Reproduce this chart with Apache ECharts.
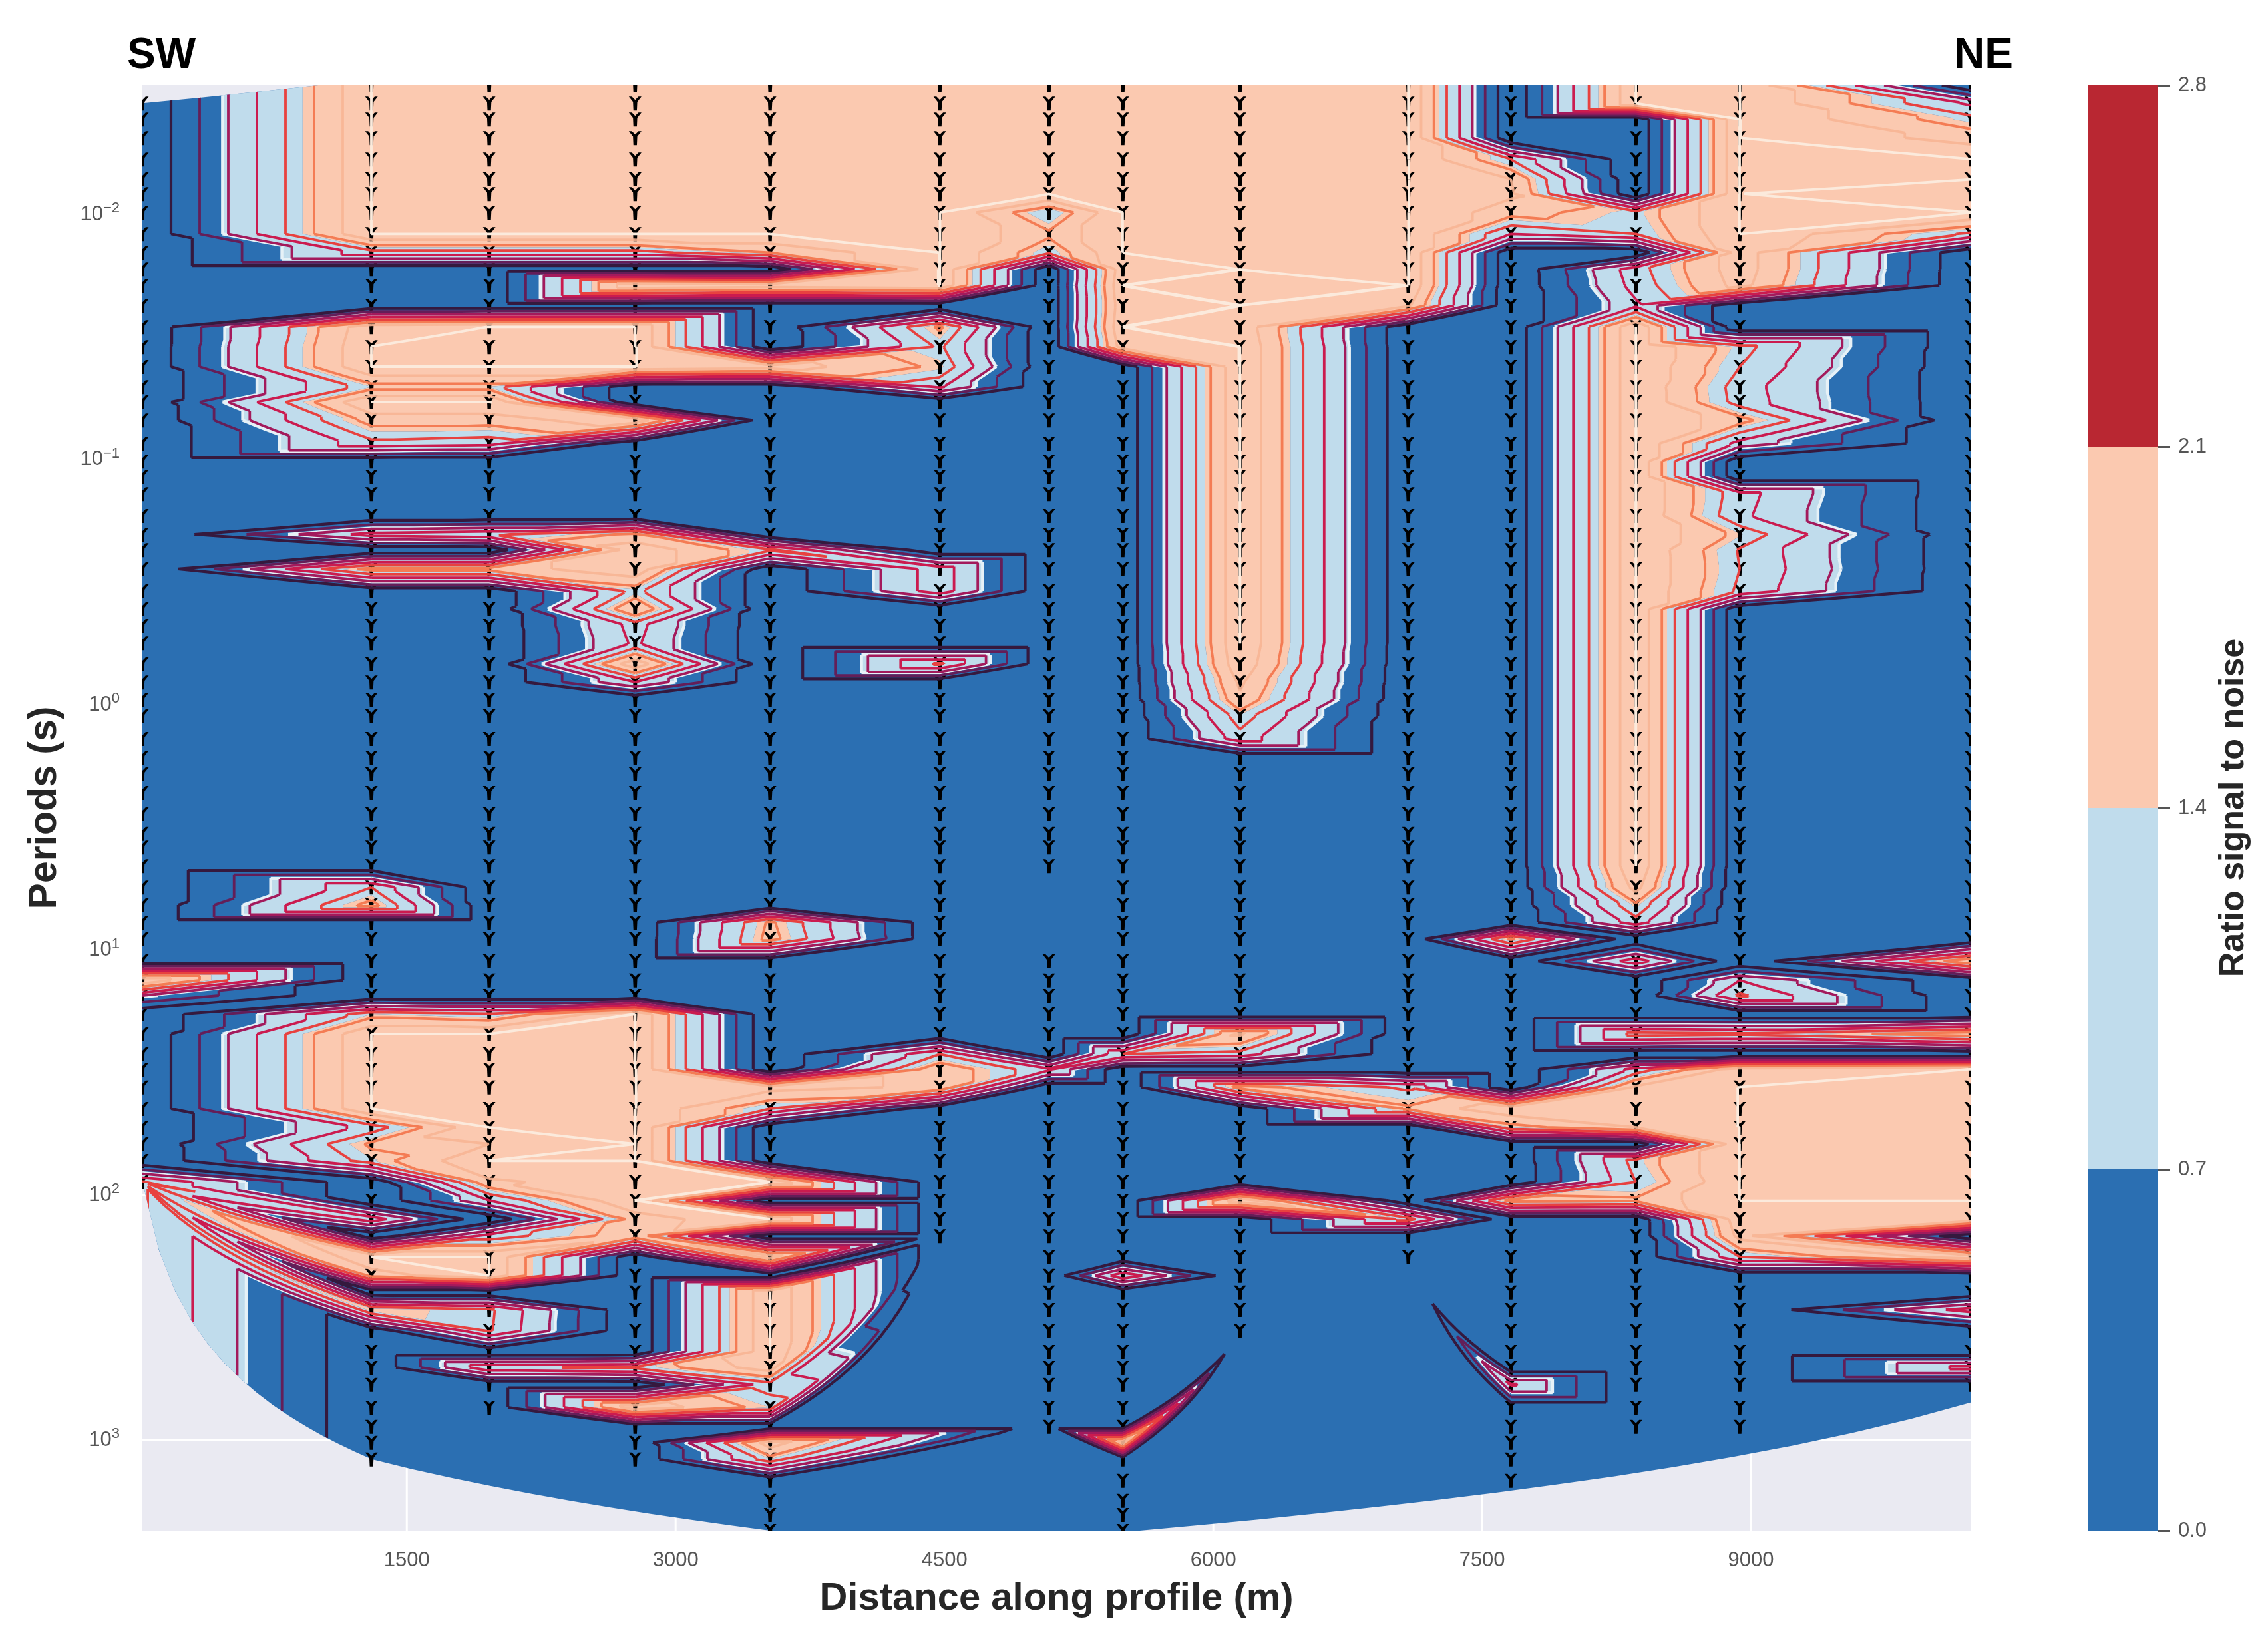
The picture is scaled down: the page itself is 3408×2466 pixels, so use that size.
<!DOCTYPE html>
<html>
<head>
<meta charset="utf-8">
<style>html,body{margin:0;background:#fff}#main{width:3408px;height:2466px}</style>
<script src="https://cdn.jsdelivr.net/npm/echarts@6/dist/echarts.min.js"></script>
</head>
<body>
<div id="main"></div>
<script>
// saturated signal to noise, sits just above the top contour level
const H = 2.001;

// station positions along the profile (m)
const stations = [25, 1303, 1960, 2774, 3527, 4474, 5083, 5495, 6149, 7088, 7660, 8358, 8937, 10225];

// log10 of the period of each measurement row
const logPeriods = [-2.527, -2.453, -2.388, -2.312, -2.225, -2.144, -2.084, -2.008, -1.921, -1.845,
  -1.777, -1.710, -1.628, -1.541, -1.460, -1.379, -1.297, -1.235, -1.161, -1.066,
  -0.993, -0.931, -0.860, -0.771, -0.695, -0.632, -0.554, -0.464, -0.391, -0.323,
  -0.252, -0.166, -0.092, -0.022, 0.046, 0.138, 0.214, 0.282, 0.358, 0.445,
  0.526, 0.581, 0.657, 0.744, 0.817, 0.887, 0.955, 1.045, 1.123, 1.186,
  1.262, 1.343, 1.425, 1.487, 1.560, 1.647, 1.723, 1.791, 1.859, 1.946,
  2.022, 2.098, 2.166, 2.252, 2.328, 2.396, 2.467, 2.553, 2.638, 2.703,
  2.773, 2.866, 2.944, 3.009, 3.077, 3.164, 3.245, 3.303, 3.368];

// ratio signal to noise, one line per period row, one column per station
const snr = [
  [0, H, H, H, H, H, H, H, H, H, 0, H, H, 0],
  [0, H, H, H, H, H, H, H, H, H, 0, H, H, 0.95],
  [0, H, H, H, H, H, H, H, H, H, 0, 0, H, 1.35],
  [0, H, H, H, H, H, H, H, H, H, 0, 0, H, 1.65],
  [0, H, H, H, H, H, H, H, H, H, 1.25, 0, H, H],
  [0, H, H, H, H, H, H, H, H, H, 1.75, 0, H, H],
  [0, H, H, H, H, H, H, H, H, H, 1.8, 0, H, 1.95],
  [0, H, H, H, H, H, 1.25, H, H, H, 1.6, 1.35, H, H],
  [0, H, H, H, H, H, 1.55, H, H, H, 1, 1.25, H, 1.2],
  [0, 1.15, 1.15, 1.15, 1.5, H, 1.3, H, H, H, 0, 0, 1.9, 0],
  [0, 0, 0, 0, 0, H, 0, 1.95, H, H, 0, 1.15, 1.9, 0],
  [0, 0, 0, 2, 1.9, H, 0, H, 1.95, H, 0, 1.1, 1.85, 0],
  [0, 0, 0, 0, 0, 0, 0, 1.95, H, 1.8, 0, 0.95, 0, 0],
  [0, 1.95, H, H, 0, 1.55, 0, H, 1.95, 0, 0, H, 0, 0],
  [0, H, H, H, 0, 1.3, 0, 1.9, H, 0, 0, H, 1.35, 0],
  [0, H, H, H, 1.9, 1.45, 0, 0, H, 0, 0, H, 1.25, 0],
  [0, 1.4, 1.4, 0, 0, 1.05, 0, 0, H, 0, 0, H, 1.13, 0],
  [0, H, H, 0, 0, 0, 0, 0, H, 0, 0, H, 1.15, 0],
  [0, 1.6, 1.6, 1.95, 0, 0, 0, 0, H, 0, 0, H, 1.6, 0],
  [0, 1.17, 1.1, 0, 0, 0, 0, 0, H, 0, 0, H, 0.9, 0],
  [0, 0, 0, 0, 0, 0, 0, 0, H, 0, 0, H, 0, 0],
  [0, 0, 0, 0, 0, 0, 0, 0, H, 0, 0, H, 0, 0],
  [0, 0, 0, 0, 0, 0, 0, 0, H, 0, 0, H, 1.1, 0],
  [0, 0, 0, 0, 0, 0, 0, 0, H, 0, 0, H, 1.06, 0],
  [0, 1.1, 1.2, 1.55, 0, 0, 0, 0, H, 0, 0, H, 1.42, 0],
  [0, 0, 0, 1.95, 1.3, 0, 0, 0, H, 0, 0, H, 1.23, 0],
  [0, 1.6, 1.6, 1.95, 0, 1.15, 0, 0, H, 0, 0, H, 1.25, 0],
  [0, 0, 0, 1.35, 0, 1.15, 0, 0, H, 0, 0, H, 1.2, 0],
  [0, 0, 0, 1.75, 0, 0, 0, 0, H, 0, 0, H, 0, 0],
  [0, 0, 0, 1.1, 0, 0, 0, 0, H, 0, 0, H, 0, 0],
  [0, 0, 0, 1.05, 0, 0, 0, 0, H, 0, 0, H, 0, 0],
  [0, 0, 0, 1.95, 0, 1.3, 0, 0, 1.95, 0, 0, H, 0, 0],
  [0, 0, 0, 1, 0, 0, 0, 0, 1.8, 0, 0, H, 0, 0],
  [0, 0, 0, 0, 0, 0, 0, 0, 1.7, 0, 0, H, 0, 0],
  [0, 0, 0, 0, 0, 0, 0, 0, 1.38, 0, 0, H, 0, 0],
  [0, 0, 0, 0, 0, 0, 0, 0, 1.15, 0, 0, H, 0, 0],
  [0, 0, 0, 0, 0, 0, 0, 0, 0, 0, 0, H, 0, 0],
  [0, 0, 0, 0, 0, 0, 0, 0, 0, 0, 0, H, 0, 0],
  [0, 0, 0, 0, 0, 0, 0, 0, 0, 0, 0, H, 0, 0],
  [0, 0, 0, 0, 0, 0, 0, 0, 0, 0, 0, H, 0, 0],
  [0, 0, 0, 0, 0, 0, 0, 0, 0, 0, 0, H, 0, 0],
  [0, 0, 0, 0, 0, 0, 0, 0, 0, 0, 0, H, 0, 0],
  [0, 0, 0, 0, 0, 0, 0, 0, 0, 0, 0, H, 0, 0],
  [0, 1.25, 0, 0, 0, 0, 0, 0, 0, 0, 0, 1.85, 0, 0],
  [0, 1.6, 0, 0, 0, 0, 0, 0, 0, 0, 0, 1.45, 0, 0],
  [0, 0, 0, 0, 1.55, 0, 0, 0, 0, 0, 0, 1.15, 0, 0],
  [0, 0, 0, 0, 1.6, 0, 0, 0, 0, 0, 1.55, 0, 0, 0],
  [0, 0, 0, 0, 0, 0, 0, 0, 0, 0, 0, 1.15, 0, 1.7],
  [2, 0, 0, 0, 0, 0, 0, 0, 0, 0, 0, 0, 1, 0],
  [0.75, 0, 0, 0, 0, 0, 0, 0, 0, 0, 0, 0, 1.3, 0],
  [0, 1.4, 1.28, H, 0, 0, 0, 0, 0, 0, 0, 0, 0, 0],
  [0, H, H, H, 0, 0, 0, 0, 1.8, 0, 0, 1.35, 1.3, 1.65],
  [0, H, H, H, 0, 1.25, 0, 1.25, 1.15, 0, 0, 0, 0, 0],
  [0, H, H, H, 0, 1.7, 1.05, 0, 0, 0, 0, 1.1, 1.9, H],
  [0, H, H, H, 1.85, 1.7, 0, 0, 1.6, 1.2, 0, 1.8, H, H],
  [0, H, H, H, 1.25, 0, 0, 0, 0, 1.55, 1.95, 1.95, H, H],
  [0, 1.12, H, H, 0, 0, 0, 0, 0, 0, 1.4, 1.75, H, H],
  [0, 1.55, 1.75, H, 0, 0, 0, 0, 0, 0, 0, 0, H, H],
  [0, 1.38, H, H, 0, 0, 0, 0, 0, 0, 0, 1.35, H, H],
  [1.28, 0, 1.7, 1.9, H, 0, 0, 0, 0, 0, 0, 1.25, H, H],
  [0, 0, 1, H, 0, 0, 0, 0, 1.95, 0, 1.6, 1.55, H, H],
  [0, 1.15, 0, 1.6, H, 0, 0, 0, 0, 1.35, 0, 0, 1.95, 1.95],
  [0, 0, 1.1, 1.65, 0, 0, 0, 0, 0, 0, 0, 0, 1.85, 0],
  [0, H, H, 0, 1.9, 0, 0, 0, 0, 0, 0, 0, 1.25, 1.9],
  [0, 1.6, H, 0, 0, 0, 0, 1.2, 0, 0, 0, 0, 0, 0],
  [0, 0, 0, 0, H, 0, 0, 0, 0, 0, 0, 0, 0, 0],
  [0, 1.5, 1.3, 0, H, 0, 0, 0, 0, 0, 0, 0, 0, 1.12],
  [0, 0, 1.28, 0, H, 0, 0, 0, 0, 0, 0, 0, 0, 0],
  [0, 0, 0, 0, H, 0, 0, 0, 0, 0, 0, 0, 0, 0],
  [0, 0, 1.2, 1.3, 1.9, 0, 0, 0, 0, 0, 0, 0, 0, 1.1],
  [0, 0, 0, 0, 1.14, 0, 0, 0, 0, 0, 1.05, 0, 0, 0],
  [0, 0, 0, 1.95, 1.4, 0, 0, 0, 0, 0, 0, 0, 0, 0],
  [0, 0, 0, 0, 0, 0, 0, 0, 0, 0, 0, 0, 0, 0],
  [0, 0, 0, 0, 1.9, 0, 0, 1.9, 0, 0, 0, 0, 0, 0],
  [0, 0, 0, 0, 1.4, 0, 0, 0, 0, 0, 0, 0, 0, 0],
  [0, 0, 0, 0, 0, 0, 0, 0, 0, 0, 0, 0, 0, 0],
  [0, 0, 0, 0, 0, 0, 0, 0, 0, 0, 0, 0, 0, 0],
  [0, 0, 0, 0, 0, 0, 0, 0, 0, 0, 0, 0, 0, 0],
  [0, 0, 0, 0, 0, 0, 0, 0, 0, 0, 0, 0, 0, 0]
];

// first and last row measured at each station, and rows left out at station 5083
const firstRow = [1, 0, 0, 0, 0, 0, 0, 0, 0, 0, 0, 0, 0, 0];
const lastRow = [59, 74, 71, 74, 78, 62, 72, 78, 67, 63, 75, 72, 72, 70];
const gapRows = [[6, 43, 46]];

// where a station has no data below its last row the mesh folds onto another
// sample: [station, from row, to row, sample station, sample row]
const folds = [[0, 60, 78, 0, 59], [1, 75, 78, 1, 74], [2, 72, 78, 2, 71], [3, 75, 78, 3, 74],
  [5, 63, 71, 5, 62], [5, 72, 78, 6, 72], [6, 73, 78, 6, 72], [8, 68, 78, 8, 67],
  [9, 64, 78, 9, 63], [10, 76, 78, 10, 75], [11, 73, 78, 11, 72], [12, 73, 78, 12, 72],
  [13, 71, 78, 13, 70]];

// mesh cells cut along the other diagonal: [row, station]
const boxCells = [[9, 0], [10, 2], [11, 2], [12, 3], [19, 0], [42, 0], [44, 0], [44, 1], [46, 3], [47, 0],
  [13, 12], [13, 11], [21, 12], [25, 4], [25, 5], [30, 4], [30, 5], [31, 4], [35, 8], [49, 12], [50, 10], [50, 11],
  [51, 6], [52, 6], [53, 6], [51, 10], [50, 7], [50, 8], [53, 7], [53, 8], [53, 9], [55, 8], [57, 10],
  [59, 4], [60, 4], [61, 4], [60, 7], [60, 8], [61, 8], [62, 3], [64, 3],
  [68, 1], [70, 2], [69, 10], [70, 10], [68, 12], [69, 12], [1, 10]];

// outline of the interpolated area: [distance, log10 period]
const hullPoints = [[25, -2.453], [1006, -2.527], [10225, -2.527], [10225, 2.846],
  [5590, 3.368], [3527, 3.368], [1303, 3.077], [25, 1.946]];

// contour levels
const fillBands = [[0.7, 1.4, '#c0dcec'], [1.4, 2.1, '#fbc9b0']];
const lineLevels = [0.25, 0.5, 0.75, 1, 1.25, 1.5, 1.75, 2];
const lineColors = ['#35193e', '#641e58', '#a31a5c', '#cb1b4f', '#e8413f', '#f47c54', '#f7b595', '#fbeadc'];

// axes and colour bar
const xTicks = [1500, 3000, 4500, 6000, 7500, 9000];
const yTicks = [0.01, 0.1, 1, 10, 100, 1000];
const barSteps = [[0, 0.7, '#2b6fb2'], [0.7, 1.4, '#c0dcec'], [1.4, 2.1, '#fbc9b0'], [2.1, 2.8, '#b92732']];

const boxSet = new Set(boxCells.map(c => c[0] + '_' + c[1]));

function vertex(col, row) {
  let c = col, r = row;
  for (const f of folds) {
    if (f[0] === col && row >= f[1] && row <= f[2]) { c = f[3]; r = f[4]; break; }
  }
  return { x: stations[c], p: Math.pow(10, logPeriods[r]), v: snr[r][c] };
}

// cut every mesh cell in two triangles
const triangles = [];
for (let r = 0; r < logPeriods.length - 1; r++) {
  for (let c = 0; c < stations.length - 1; c++) {
    const a = vertex(c, r), b = vertex(c + 1, r), d = vertex(c, r + 1), e = vertex(c + 1, r + 1);
    const d1 = Math.abs(a.v - e.v), d2 = Math.abs(b.v - d.v);
    let main = d1 < d2 || (d1 === d2 && a.v + e.v >= b.v + d.v);
    if (boxSet.has(r + '_' + c)) main = !main;
    if (main) triangles.push([a, b, e], [a, e, d]);
    else triangles.push([a, b, d], [b, e, d]);
  }
}

function mix(a, b, t) {
  return { x: a.x + (b.x - a.x) * t, p: a.p + (b.p - a.p) * t, v: a.v + (b.v - a.v) * t };
}

function clipSide(poly, level, sign) {
  const out = [];
  for (let i = 0; i < poly.length; i++) {
    const a = poly[i], b = poly[(i + 1) % poly.length];
    const ina = sign * (a.v - level) >= 0, inb = sign * (b.v - level) >= 0;
    if (ina) out.push(a);
    if (ina !== inb) out.push(mix(a, b, (level - a.v) / (b.v - a.v)));
  }
  return out;
}

// straight in distance and linear period, so curved on the log axis
function edgePath(a, b, api) {
  const dl = Math.abs(Math.log10(b.p / a.p));
  const n = a.x === b.x ? 1 : Math.min(14, Math.ceil(dl / 0.03) || 1);
  let s = '';
  for (let i = 1; i <= n; i++) {
    const pt = api.coord([a.x + (b.x - a.x) * i / n, a.p + (b.p - a.p) * i / n]);
    s += 'L' + pt[0].toFixed(1) + ' ' + pt[1].toFixed(1);
  }
  return s;
}

function polyPath(poly, api) {
  const first = api.coord([poly[0].x, poly[0].p]);
  let s = 'M' + first[0].toFixed(1) + ' ' + first[1].toFixed(1);
  for (let i = 1; i <= poly.length; i++) s += edgePath(poly[i - 1], poly[i % poly.length], api);
  return s + 'Z';
}

function hullPoly() {
  return hullPoints.map(h => ({ x: h[0], p: Math.pow(10, h[1]), v: 0 }));
}

function hullClip(api) {
  return { type: 'path', shape: { pathData: polyPath(hullPoly(), api) } };
}

function levelPath(level, api) {
  let s = '';
  for (const t of triangles) {
    const pts = [];
    for (let i = 0; i < 3; i++) {
      const a = t[i], b = t[(i + 1) % 3];
      if ((a.v > level) !== (b.v > level)) pts.push(mix(a, b, (level - a.v) / (b.v - a.v)));
    }
    if (pts.length === 2) {
      const q = api.coord([pts[0].x, pts[0].p]);
      s += 'M' + q[0].toFixed(1) + ' ' + q[1].toFixed(1) + edgePath(pts[0], pts[1], api);
    }
  }
  return s;
}

function renderGrid(params, api) {
  const rect = params.coordSys;
  const v = api.value(0), isX = api.value(1) === 0;
  const pt = isX ? api.coord([v, 1]) : api.coord([1000, v]);
  return {
    type: 'line',
    shape: isX ? { x1: pt[0], y1: rect.y, x2: pt[0], y2: rect.y + rect.height }
      : { x1: rect.x, y1: pt[1], x2: rect.x + rect.width, y2: pt[1] },
    style: { stroke: '#fff', lineWidth: 3 }
  };
}

function renderHull(params, api) {
  return { type: 'path', shape: { pathData: polyPath(hullPoly(), api) }, style: { fill: '#2b6fb2' } };
}

function renderBand(params, api) {
  const band = fillBands[api.value(0)];
  let s = '';
  for (const t of triangles) {
    let poly = clipSide(t, band[0], 1);
    if (poly.length) poly = clipSide(poly, band[1], -1);
    if (poly.length > 2) s += polyPath(poly, api);
  }
  return { type: 'path', shape: { pathData: s }, style: { fill: band[2] }, clipPath: hullClip(api) };
}

function renderEdge(params, api) {
  return {
    type: 'path', shape: { pathData: levelPath(0.7, api) }, clipPath: hullClip(api),
    style: { fill: null, stroke: '#e6f1f7', lineWidth: 4.5 }
  };
}

// matplotlib tri_down marker, cut off by the plot frame
function renderMark(params, api) {
  const pt = api.coord([api.value(0), api.value(1)]);
  const arm = [[-9.5, -10], [-5, -10], [0, -5], [5, -10], [9.5, -10], [3.2, -2], [2.6, 11], [-2.6, 11], [-3.2, -2]];
  return {
    type: 'polygon',
    shape: { points: arm.map(q => [pt[0] + q[0], pt[1] + q[1]]) },
    style: { fill: '#000' }
  };
}

function renderLevel(params, api) {
  const i = api.value(0);
  return {
    type: 'path', shape: { pathData: levelPath(lineLevels[i], api) }, clipPath: hullClip(api),
    style: { fill: null, stroke: lineColors[i], lineWidth: i === 0 ? 4.2 : 3.8, lineJoin: 'miter', opacity: i === 6 ? 0.9 : 1 }
  };
}

function renderBar(params, api) {
  const s = barSteps[api.value(0)];
  const lo = api.coord([0, s[0]]), hi = api.coord([1, s[1]]);
  return {
    type: 'rect',
    shape: { x: lo[0], y: hi[1], width: hi[0] - lo[0], height: lo[1] - hi[1] },
    style: { fill: s[2] }
  };
}

const stationMarks = [];
stations.forEach((x, c) => {
  for (let r = firstRow[c]; r <= lastRow[c]; r++) {
    if (gapRows.some(g => g[0] === c && r >= g[1] && r <= g[2])) continue;
    stationMarks.push([x, Math.pow(10, logPeriods[r])]);
  }
});

const gridData = xTicks.map(v => [v, 0]).concat(yTicks.map(v => [v, 1]));
const onMain = { type: 'custom', xAxisIndex: 0, yAxisIndex: 0, silent: true, clip: true };

const option = {
  animation: false,
  backgroundColor: '#fff',
  grid: [
    { left: 214, top: 128, width: 2747, height: 2172, show: true, backgroundColor: '#eaeaf2', borderWidth: 0 },
    { left: 3138, top: 128, width: 105, height: 2172 }
  ],
  xAxis: [
    {
      type: 'value', min: 25, max: 10225,
      name: 'Distance along profile (m)', nameLocation: 'middle', nameGap: 74,
      nameTextStyle: { fontFamily: 'Liberation Sans', fontWeight: 'bold', fontSize: 58, color: '#262626' },
      axisLine: { show: false }, axisTick: { show: false }, splitLine: { show: false },
      axisLabel: {
        customValues: xTicks, margin: 30, fontFamily: 'Liberation Sans', fontSize: 31, color: '#555',
        formatter: v => String(v)
      }
    },
    { gridIndex: 1, type: 'value', min: 0, max: 1, show: false }
  ],
  yAxis: [
    {
      type: 'log', logBase: 10, inverse: true, min: Math.pow(10, -2.527), max: Math.pow(10, 3.368),
      name: 'Periods (s)', nameLocation: 'middle', nameGap: 117, nameRotate: 90,
      nameTextStyle: { fontFamily: 'Liberation Sans', fontWeight: 'bold', fontSize: 59, color: '#262626' },
      axisLine: { show: false }, axisTick: { show: false }, splitLine: { show: false }, minorSplitLine: { show: false },
      axisLabel: {
        customValues: yTicks, margin: 34, fontFamily: 'Liberation Sans', fontSize: 31, color: '#555',
        formatter: v => '{b|10}{s|' + String(Math.round(Math.log10(v))).replace('-', '\u2212') + '}',
        rich: {
          b: { fontFamily: 'Liberation Sans', fontSize: 31, color: '#555' },
          s: { fontFamily: 'Liberation Sans', fontSize: 22, color: '#555', padding: [0, 0, 18, 0] }
        }
      }
    },
    {
      gridIndex: 1, type: 'value', position: 'right', min: 0, max: 2.8, interval: 0.7,
      name: 'Ratio signal to noise', nameLocation: 'middle', nameGap: 88, nameRotate: 90,
      nameTextStyle: { fontFamily: 'Liberation Sans', fontWeight: 'bold', fontSize: 52, color: '#262626' },
      axisLine: { show: false, onZero: false }, splitLine: { show: false },
      axisTick: { show: true, length: 18, lineStyle: { color: '#555', width: 3 } },
      axisLabel: { margin: 30, fontFamily: 'Liberation Sans', fontSize: 31, color: '#555', formatter: v => v.toFixed(1) }
    }
  ],
  graphic: [
    { type: 'text', left: 191, top: 52, style: { text: 'SW', fontFamily: 'Liberation Sans', fontWeight: 'bold', fontSize: 64, fill: '#000' } },
    { type: 'text', left: 2936, top: 52, style: { text: 'NE', fontFamily: 'Liberation Sans', fontWeight: 'bold', fontSize: 64, fill: '#000' } }
  ],
  series: [
    Object.assign({ z: 1, renderItem: renderGrid, data: gridData }, onMain),
    Object.assign({ z: 2, renderItem: renderHull, data: [[0]] }, onMain),
    Object.assign({ z: 3, renderItem: renderBand, data: fillBands.map((b, i) => [i]) }, onMain),
    Object.assign({ z: 4, renderItem: renderEdge, data: [[0]] }, onMain),
    Object.assign({ z: 5, renderItem: renderMark, data: stationMarks }, onMain),
    Object.assign({ z: 6, renderItem: renderLevel, data: lineLevels.map((l, i) => [i]) }, onMain),
    { type: 'custom', xAxisIndex: 1, yAxisIndex: 1, silent: true, z: 2, renderItem: renderBar, data: barSteps.map((s, i) => [i]) }
  ]
};

const chart = echarts.init(document.getElementById('main'), null, { renderer: 'canvas' });
chart.setOption(option);
</script>
</body>
</html>
